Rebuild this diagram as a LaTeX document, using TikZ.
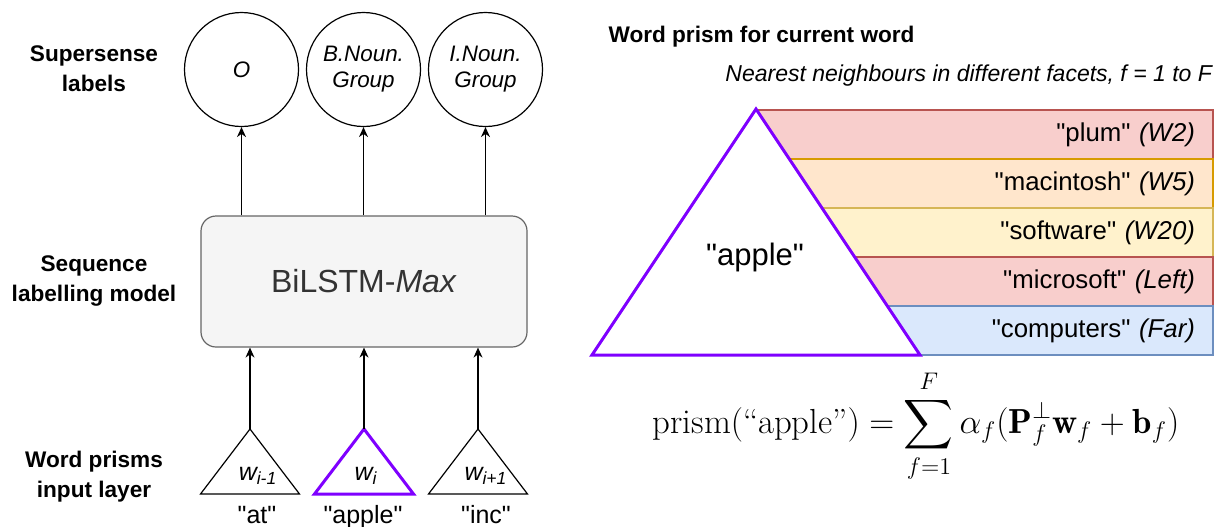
\documentclass[tikz,border=0pt]{standalone}
\usepackage{amsmath}
\usepackage{fontspec}
\newfontfamily\arialfont{Liberation Sans}
\usetikzlibrary{arrows.meta, calc, positioning}

\definecolor{prismpurple}{RGB}{127,0,255}
\definecolor{boxfill}{HTML}{F5F5F5}
\definecolor{boxline}{HTML}{666666}
\definecolor{redfill}{HTML}{F8CECC}
\definecolor{redline}{HTML}{B85450}
\definecolor{orangefill}{HTML}{FFE6CC}
\definecolor{orangeline}{HTML}{D79B00}
\definecolor{yellowfill}{HTML}{FFF2CC}
\definecolor{yellowline}{HTML}{D6B656}
\definecolor{bluefill}{HTML}{DAE8FC}
\definecolor{blueline}{HTML}{6C8EBF}

\begin{document}
\begin{tikzpicture}[x=0.5pt, y=-0.5pt, >={Stealth[length=5pt,width=4.5pt]}, node distance=61pt, font=\arialfont]
	\tikzstyle{layer} = [font=\arialfont\bfseries\fontsize{11.3}{15}\selectfont, align=center]
	\tikzstyle{sense} = [draw, line width=0.6pt, circle, minimum size=57pt, inner sep=0pt, align=center, font=\arialfont\itshape\fontsize{11.2}{13}\selectfont]
	\tikzstyle{model} = [draw=boxline, fill=boxfill, line width=0.6pt, rounded corners=7.5pt, minimum width=163pt, minimum height=65.5pt, text=black!80, font=\arialfont\fontsize{16}{19}\selectfont]
	\tikzstyle{word} = [font=\arialfont\fontsize{12.5}{15}\selectfont]
	\tikzstyle{wordtri} = [draw, line width=0.6pt, line join=miter]
	\tikzstyle{current} = [draw=prismpurple, line width=1.5pt, line join=miter, fill=white]
	\tikzstyle{facet} = [rectangle, line width=0.6pt, minimum height=24.5pt, text width=210.5pt, inner xsep=9pt, inner ysep=0pt, align=right, font=\arialfont\fontsize{12.9}{14}\selectfont]
	\tikzstyle{link} = [->, line width=0.6pt]

	\useasboundingbox (0,0) rectangle (1214,526);

	% left: tagger
	\node[layer] (supersense) at (94,68.5) {Supersense\\labels};
	\node[layer] (sequence) at (94,281) {Sequence\\labelling model};
	\node[layer] (input) at (94,477) {Word prisms\\input layer};

	\node[sense] (o) at (241.5,69.5) {O};
	\node[sense, right of=o] (bnoun) {B.Noun.\\Group};
	\node[sense, right of=bnoun] (inoun) {I.Noun.\\Group};

	\node[model] (bilstm) at (364,281.5) {BiLSTM-\textit{Max}};

	\draw[link] (o |- bilstm.north) -- (o.south);
	\draw[link] (bnoun |- bilstm.north) -- (bnoun.south);
	\draw[link] (inoun |- bilstm.north) -- (inoun.south);

	\draw[wordtri] (250,429) coordinate (a1) -- (299.5,494) -- (200.5,494) -- cycle;
	\draw[current] (364,429) coordinate (a2) -- (413.5,494) -- (314.5,494) -- cycle;
	\draw[wordtri] (478,429) coordinate (a3) -- (527.5,494) -- (428.5,494) -- cycle;

	\draw[link] (a1) -- (a1 |- bilstm.south);
	\draw[link] (a2) -- (a2 |- bilstm.south);
	\draw[link] (a3) -- (a3 |- bilstm.south);

	\node[word, anchor=base] (w1) at (258,480) {\itshape w\textsubscript{i-1}};
	\node[word, anchor=base] (w2) at (366,480) {\itshape w\textsubscript{i}};
	\node[word, anchor=base] (w3) at (486,480) {\itshape w\textsubscript{i+1}};

	\node[word, anchor=base] (at) at (257,523) {"at"};
	\node[word, anchor=base] (apple) at (363,523) {"apple"};
	\node[word, anchor=base] (inc) at (486,523) {"inc"};

	% right: the prism of the current word
	\node[layer, anchor=base west] (title) at (601.5,42) {Word prism for current word};
	\node[font=\arialfont\itshape\fontsize{11.5}{14}\selectfont, anchor=base east] (nearest) at (1219,81) {Nearest neighbours in different facets, f = 1 to F};

	\begin{scope}[node distance=24.5pt]
		\node[facet, fill=redfill, draw=redline] (plum) at (984.5,134.5) {"plum" \textit{(W2)}};
		\node[facet, fill=orangefill, draw=orangeline, below of=plum] (macintosh) {"macintosh" \textit{(W5)}};
		\node[facet, fill=yellowfill, draw=yellowline, below of=macintosh] (software) {"software" \textit{(W20)}};
		\node[facet, fill=redfill, draw=redline, below of=software] (microsoft) {"microsoft" \textit{(Left)}};
		\node[facet, fill=bluefill, draw=blueline, below of=microsoft] (computers) {"computers" \textit{(Far)}};
	\end{scope}

	\draw[current] (756,109) coordinate (apex) -- (920,355) -- (592,355) -- cycle;
	\node[font=\arialfont\fontsize{15.5}{18}\selectfont, anchor=base] (applebig) at (755,265) {"apple"};

	\node[font=\normalfont\fontsize{17.4}{21}\selectfont, anchor=base] (formula) at (916,433)
		{$\displaystyle \mathrm{prism}(\text{``apple''}) = \sum_{f=1}^{F} \alpha_f(\mathbf{P}_f^{\perp}\mathbf{w}_f + \mathbf{b}_f)$};
\end{tikzpicture}
\end{document}
